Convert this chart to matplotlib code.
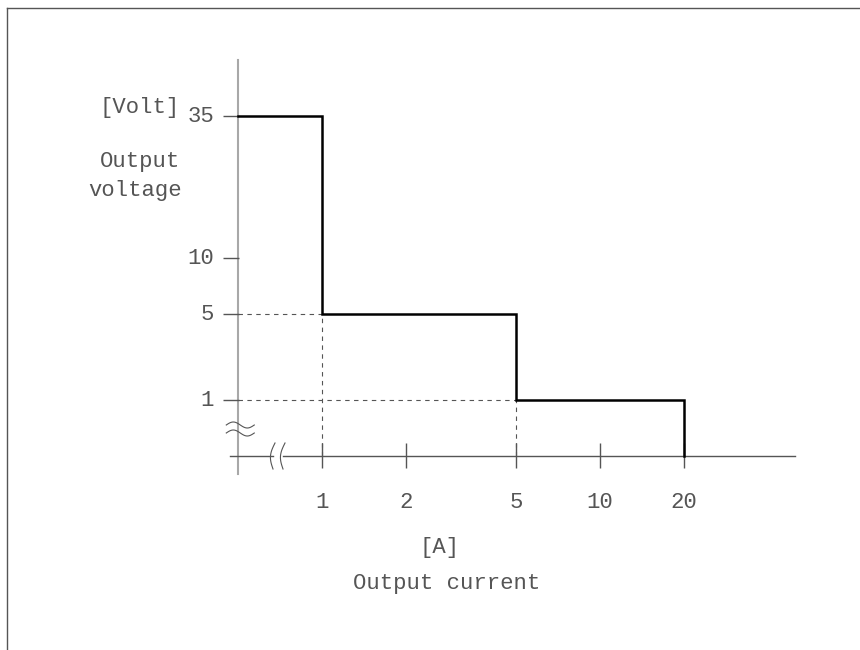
import numpy as np
import matplotlib.pyplot as plt
from matplotlib.lines import Line2D
from matplotlib.transforms import IdentityTransform

# Output characteristic: current limit [A] -> voltage level [V]
current_limits = [1, 5, 20]
voltage_levels = [35, 5, 1]
x_ticks = [1, 2, 5, 10, 20]
y_ticks = [1, 5, 10, 35]

x_origin = 0.5          # where the (broken) current axis starts

# schematic voltage axis: value -> height above the current axis (px)
VY = [0, 1, 5, 10, 35]
HY = [0, 56, 142, 198, 340]


def _pw(v, a, b):
    v = np.asarray(v, dtype=float)
    out = np.interp(v, a, b)
    lo = (b[1] - b[0]) / (a[1] - a[0])
    hi = (b[-1] - b[-2]) / (a[-1] - a[-2])
    out = np.where(v < a[0], b[0] + (v - a[0]) * lo, out)
    out = np.where(v > a[-1], b[-1] + (v - a[-1]) * hi, out)
    return out


def fwd(v):
    return _pw(v, VY, HY)


def inv(h):
    return _pw(h, HY, VY)


W, H = 860, 650
fig = plt.figure(figsize=(8.6, 6.5), dpi=100)
ax = fig.add_axes([0, 0, 1, 1])
ax.set_axis_off()
ax.set_xscale('log')
ax.set_yscale('function', functions=(fwd, inv))
ax.set_xlim(0.0695, 86.1)
ax.set_ylim(inv(-194), inv(456))

txt = dict(family='Liberation Mono', color='#555555', fontsize=16)


def fx(px):
    return px / W


def fy(py):
    return 1 - py / H


# frame (top and left edges)
fig.add_artist(Line2D([fx(7), 1], [fy(8), fy(8)], color='#555555', lw=1))
fig.add_artist(Line2D([fx(7), fx(7)], [fy(8), 0], color='#555555', lw=1))

# axes lines
ax.axvline(x_origin, ymin=fy(474), ymax=fy(60), color='#a8a8a8', lw=1.5)
ax.axhline(0, xmin=fx(230), xmax=fx(273), color='#555555', lw=1)
ax.axhline(0, xmin=fx(283), xmax=fx(795), color='#555555', lw=1)

# ticks
ax.vlines(x_ticks, fy(468), fy(443), transform=ax.get_xaxis_transform(),
          color='#555555', lw=1)
ax.hlines(y_ticks, fx(223), fx(239), transform=ax.get_yaxis_transform(),
          color='#555555', lw=1)

for v in x_ticks:
    ax.text(v, fy(502), str(v), transform=ax.get_xaxis_transform(),
            ha='center', va='center', **txt)
for v in y_ticks:
    ax.text(fx(214), v, str(v), transform=ax.get_yaxis_transform(),
            ha='right', va='center', **txt)

# dashed guides
for i in range(1, len(voltage_levels)):
    ax.plot([x_origin, current_limits[i - 1]], [voltage_levels[i]] * 2,
            color='#555555', lw=0.8, ls=(0, (4, 4)))
    ax.plot([current_limits[i - 1]] * 2, [0, voltage_levels[i]],
            color='#555555', lw=0.8, ls=(0, (4, 4)))

# step characteristic
sx, sy = [x_origin], [voltage_levels[0]]
for i, (c, v) in enumerate(zip(current_limits, voltage_levels)):
    nxt = voltage_levels[i + 1] if i + 1 < len(voltage_levels) else 0
    sx += [c, c]
    sy += [v, nxt]
ax.plot(sx, sy, color='black', lw=1.8, solid_joinstyle='miter')

# axis break marks (drawn in pixels around anchor points)
s = np.linspace(0, 1, 40)
bx, by = ax.transData.transform((x_origin, 0))
for dy in (23, 31):
    ax.add_line(Line2D(bx + 2 + (s - 0.5) * 28,
                       by + dy + 3 * np.sin(2 * np.pi * s),
                       transform=IdentityTransform(), color='#555555', lw=0.8))
for px in (273, 283):
    ax.add_line(Line2D(px + 1 - 3.5 * np.sin(np.pi * s) + 2 * (s - 0.5),
                       by - 13 + s * 26, transform=IdentityTransform(),
                       color='#555555', lw=0.8))

# labels
fig.text(fx(140), fy(107), '[Volt]', ha='center', va='center', **txt)
fig.text(fx(140), fy(162), 'Output', ha='center', va='center', **txt)
fig.text(fx(135), fy(190), 'voltage', ha='center', va='center', **txt)
fig.text(fx(440), fy(548), '[A]', ha='center', va='center', **txt)
fig.text(fx(447), fy(584), 'Output current', ha='center', va='center', **txt)

fig.savefig('out.png', dpi=100)
